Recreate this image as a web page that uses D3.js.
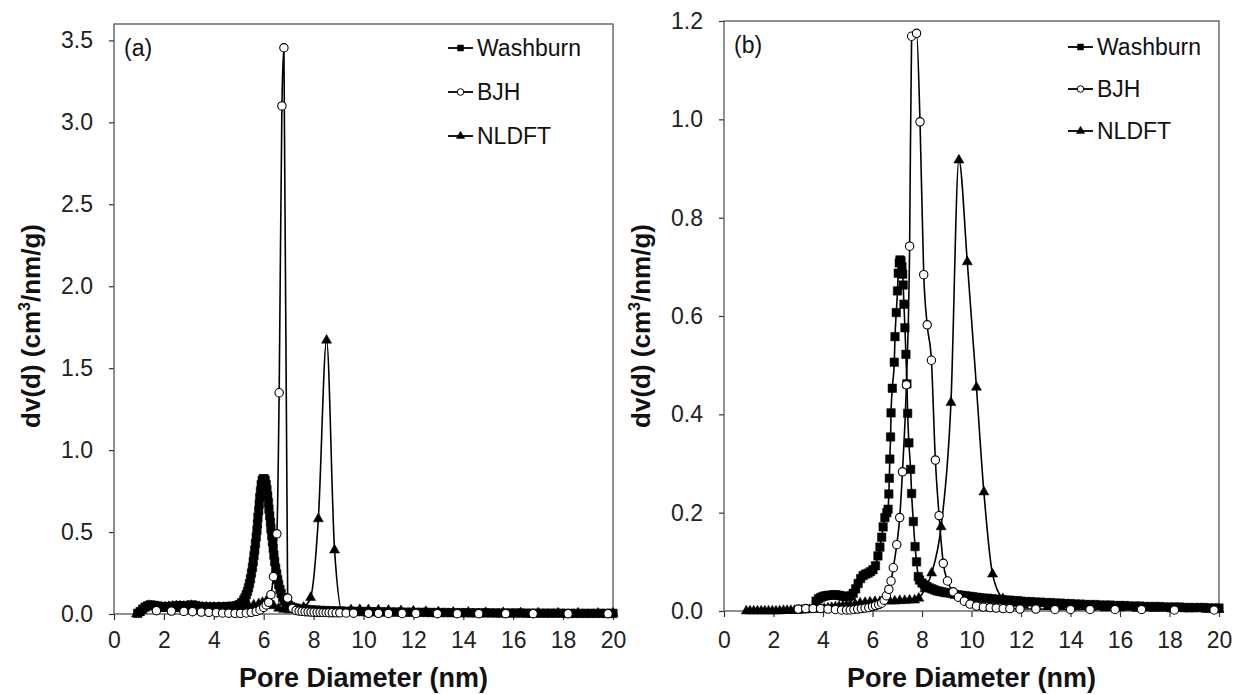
<!DOCTYPE html>
<html>
<head>
<meta charset="utf-8">
<script src="https://cdn.jsdelivr.net/npm/d3@7"></script>
<style>
  body { margin: 0; background: #fff; }
  svg { display: block; font-family: "Liberation Sans", Arial, sans-serif; }
</style>
</head>
<body>
<svg id="chart" width="1243" height="695"></svg>
<script>
// values, [pore diameter nm, dv(d)]
const washburnA = [[0.95,0.004],[1.05,0.015],[1.15,0.03],[1.25,0.042],[1.35,0.05],[1.45,0.055],[1.55,0.053],[1.65,0.05],[1.75,0.048],[1.85,0.045],[1.95,0.043],[2.05,0.042],[2.15,0.043],[2.25,0.045],[2.35,0.047],[2.45,0.048],[2.55,0.05],[2.65,0.05],[2.75,0.048],[2.85,0.047],[2.95,0.05],[3.05,0.053],[3.15,0.055],[3.25,0.05],[3.35,0.047],[3.45,0.045],[3.6,0.043],[3.75,0.042],[3.9,0.042],[4.05,0.043],[4.2,0.043],[4.35,0.044],[4.5,0.045],[4.65,0.046],[4.8,0.048],[4.92,0.05],[5.02,0.058],[5.12,0.07],[5.2,0.085],[5.25,0.1],[5.3,0.118],[5.35,0.138],[5.39,0.16],[5.43,0.185],[5.47,0.215],[5.51,0.25],[5.55,0.285],[5.58,0.32],[5.61,0.355],[5.64,0.39],[5.67,0.43],[5.7,0.47],[5.73,0.51],[5.75,0.55],[5.77,0.59],[5.8,0.63],[5.82,0.67],[5.84,0.71],[5.87,0.75],[5.9,0.79],[5.94,0.815],[5.98,0.825],[6.02,0.825],[6.06,0.815],[6.1,0.79],[6.13,0.76],[6.16,0.72],[6.19,0.68],[6.21,0.64],[6.24,0.6],[6.27,0.56],[6.29,0.52],[6.32,0.48],[6.35,0.44],[6.38,0.4],[6.41,0.36],[6.44,0.32],[6.48,0.28],[6.52,0.245],[6.56,0.21],[6.6,0.18],[6.65,0.15],[6.7,0.125],[6.76,0.1],[6.83,0.08],[6.9,0.066],[6.98,0.055],[7.07,0.046],[7.17,0.04],[7.3,0.035],[7.5,0.031],[7.7,0.028],[7.9,0.026],[8.1,0.024],[8.3,0.022],[8.5,0.021],[8.7,0.02],[8.9,0.019],[9.1,0.018],[9.3,0.017],[9.5,0.016],[9.7,0.016],[9.9,0.015],[10.1,0.015],[10.3,0.014],[10.5,0.014],[10.7,0.013],[10.9,0.013],[11.1,0.012],[11.3,0.012],[11.5,0.011],[11.7,0.011],[11.9,0.011],[12.1,0.01],[12.3,0.01],[12.5,0.01],[12.7,0.009],[12.9,0.009],[13.1,0.009],[13.3,0.009],[13.5,0.008],[13.7,0.008],[13.9,0.008],[14.1,0.008],[14.3,0.007],[14.5,0.007],[14.7,0.007],[14.9,0.007],[15.1,0.007],[15.3,0.006],[15.5,0.006],[15.7,0.006],[15.9,0.006],[16.1,0.006],[16.3,0.006],[16.5,0.005],[16.7,0.005],[16.9,0.005],[17.1,0.005],[17.3,0.005],[17.5,0.005],[17.7,0.005],[17.9,0.005],[18.1,0.004],[18.3,0.004],[18.5,0.004],[18.7,0.004],[18.9,0.004],[19.1,0.004],[19.3,0.004],[19.5,0.004],[19.7,0.004],[19.9,0.004],[20.0,0.004]];

const bjhA = [[1.7,0.02],[2.3,0.018],[2.8,0.016],[3.15,0.014],[3.5,0.012],[3.8,0.01],[4.1,0.008],[4.35,0.006],[4.6,0.005],[4.85,0.004],[5.07,0.004],[5.3,0.006],[5.5,0.01],[5.7,0.016],[5.85,0.025],[6.0,0.04],[6.1,0.055],[6.2,0.071],[6.29,0.118],[6.39,0.228],[6.53,0.489],[6.62,1.35],[6.73,3.1],[6.81,3.455],[6.96,0.097],[7.15,0.035],[7.3,0.022],[7.42,0.018],[7.54,0.016],[7.66,0.014],[7.78,0.013],[7.9,0.012],[8.02,0.011],[8.14,0.01],[8.26,0.01],[8.38,0.009],[8.5,0.009],[8.62,0.008],[8.75,0.008],[8.9,0.007],[9.05,0.007],[9.3,0.006],[9.6,0.005],[10.2,0.004],[10.6,0.004],[11.0,0.003],[11.55,0.003],[12.1,0.003],[12.96,0.002],[13.76,0.002],[14.62,0.002],[15.7,0.002],[16.8,0.002],[18.2,0.002],[19.8,0.002]];

const nldftA = [[0.9,0.0],[1.0,0.01],[1.1,0.025],[1.2,0.038],[1.3,0.047],[1.4,0.052],[1.5,0.05],[1.62,0.047],[1.75,0.045],[1.9,0.043],[2.05,0.043],[2.2,0.045],[2.35,0.047],[2.5,0.05],[2.65,0.049],[2.8,0.047],[2.95,0.05],[3.1,0.052],[3.25,0.048],[3.4,0.045],[3.55,0.043],[3.7,0.042],[3.85,0.041],[4.0,0.04],[4.2,0.04],[4.4,0.04],[4.6,0.041],[4.8,0.042],[5.0,0.044],[5.2,0.047],[5.4,0.05],[5.6,0.055],[5.8,0.062],[5.95,0.07],[6.1,0.078],[6.25,0.07],[6.4,0.05],[6.6,0.035],[6.8,0.028],[7.0,0.025],[7.2,0.025],[7.4,0.028],[7.6,0.04],[7.88,0.1],[8.19,0.58],[8.52,1.67],[8.84,0.39],[9.17,0.01],[9.5,0.025],[9.85,0.027],[10.2,0.026],[10.6,0.024],[11.0,0.022],[11.5,0.02],[12.0,0.018],[12.5,0.015],[13.0,0.013],[13.6,0.011],[14.2,0.01],[14.9,0.009],[15.6,0.008],[16.3,0.007],[17.0,0.006],[17.8,0.005],[18.6,0.005],[19.4,0.004],[20.0,0.004]];

const washburnB = [[3.72,0.02],[3.82,0.025],[3.92,0.028],[4.02,0.03],[4.12,0.031],[4.22,0.032],[4.32,0.032],[4.42,0.033],[4.52,0.033],[4.62,0.032],[4.72,0.031],[4.82,0.03],[4.92,0.029],[5.02,0.029],[5.12,0.031],[5.22,0.036],[5.32,0.045],[5.42,0.056],[5.52,0.066],[5.62,0.072],[5.72,0.075],[5.82,0.077],[5.92,0.08],[6.02,0.084],[6.12,0.092],[6.22,0.112],[6.3,0.13],[6.37,0.15],[6.43,0.171],[6.5,0.19],[6.58,0.2],[6.63,0.207],[6.66,0.238],[6.68,0.27],[6.7,0.309],[6.73,0.354],[6.75,0.403],[6.8,0.453],[6.88,0.506],[6.91,0.558],[6.96,0.607],[7.01,0.651],[7.04,0.687],[7.08,0.708],[7.11,0.714],[7.15,0.712],[7.19,0.7],[7.22,0.685],[7.24,0.663],[7.27,0.624],[7.31,0.576],[7.35,0.522],[7.39,0.462],[7.42,0.402],[7.47,0.342],[7.54,0.288],[7.58,0.239],[7.65,0.182],[7.72,0.131],[7.78,0.1],[7.85,0.07],[7.9,0.063],[8.0,0.057],[8.1,0.053],[8.2,0.05],[8.3,0.047],[8.4,0.045],[8.5,0.043],[8.6,0.041],[8.7,0.04],[8.8,0.039],[8.9,0.038],[9.0,0.037],[9.15,0.036],[9.3,0.034],[9.45,0.033],[9.6,0.032],[9.75,0.031],[9.9,0.03],[10.05,0.029],[10.2,0.028],[10.35,0.027],[10.5,0.026],[10.65,0.026],[10.8,0.025],[10.95,0.024],[11.1,0.024],[11.25,0.023],[11.4,0.022],[11.55,0.022],[11.7,0.021],[11.85,0.021],[12.0,0.02],[12.2,0.019],[12.4,0.019],[12.6,0.018],[12.8,0.018],[13.0,0.017],[13.2,0.017],[13.4,0.016],[13.6,0.016],[13.8,0.015],[14.0,0.015],[14.2,0.014],[14.4,0.014],[14.6,0.013],[14.8,0.013],[15.0,0.013],[15.2,0.012],[15.4,0.012],[15.6,0.012],[15.8,0.011],[16.0,0.011],[16.2,0.011],[16.4,0.01],[16.6,0.01],[16.8,0.01],[17.0,0.009],[17.2,0.009],[17.4,0.009],[17.6,0.009],[17.8,0.008],[18.0,0.008],[18.2,0.008],[18.4,0.008],[18.6,0.007],[18.8,0.007],[19.0,0.007],[19.2,0.007],[19.4,0.007],[19.6,0.006],[19.8,0.006],[20.0,0.006]];

const bjhB = [[3.0,0.004],[3.3,0.005],[3.6,0.005],[3.9,0.005],[4.2,0.004],[4.5,0.003],[4.75,0.002],[4.95,0.002],[5.1,0.002],[5.25,0.003],[5.4,0.004],[5.55,0.005],[5.7,0.006],[5.85,0.007],[6.0,0.009],[6.12,0.011],[6.25,0.013],[6.37,0.016],[6.47,0.022],[6.56,0.031],[6.66,0.044],[6.75,0.061],[6.84,0.088],[6.98,0.135],[7.1,0.19],[7.21,0.283],[7.37,0.46],[7.5,0.742],[7.58,1.169],[7.78,1.175],[7.92,0.995],[8.07,0.684],[8.21,0.582],[8.38,0.51],[8.54,0.307],[8.69,0.194],[8.86,0.097],[9.03,0.061],[9.26,0.039],[9.47,0.028],[9.71,0.02],[9.94,0.014],[10.2,0.01],[10.48,0.008],[10.75,0.007],[11.0,0.006],[11.28,0.005],[11.55,0.005],[11.96,0.004],[12.6,0.004],[13.37,0.003],[14.0,0.003],[14.79,0.003],[15.8,0.003],[16.87,0.003],[18.2,0.002],[19.8,0.002]];

const nldftB = [[0.9,0.0],[1.05,0.0],[1.2,0.0],[1.35,0.0],[1.5,0.0],[1.65,0.0],[1.8,0.0],[1.95,0.0],[2.1,0.0],[2.25,0.0],[2.4,0.001],[2.55,0.001],[2.7,0.001],[2.85,0.001],[3.0,0.001],[3.15,0.002],[3.3,0.002],[3.45,0.003],[3.6,0.003],[3.75,0.004],[3.9,0.004],[4.05,0.005],[4.2,0.006],[4.35,0.007],[4.5,0.008],[4.65,0.009],[4.8,0.01],[4.95,0.011],[5.1,0.012],[5.3,0.014],[5.5,0.016],[5.7,0.017],[5.9,0.018],[6.1,0.019],[6.3,0.019],[6.5,0.02],[6.7,0.02],[6.9,0.02],[7.1,0.021],[7.3,0.021],[7.5,0.022],[7.7,0.022],[7.87,0.026],[8.12,0.045],[8.39,0.077],[8.77,0.171],[9.17,0.424],[9.49,0.917],[9.83,0.71],[10.2,0.455],[10.5,0.242],[10.85,0.075],[11.27,0.025],[11.7,0.015],[12.1,0.012],[12.6,0.011],[13.1,0.01],[13.6,0.009],[14.2,0.008],[14.8,0.007],[15.4,0.006],[16.0,0.006],[16.7,0.005],[17.4,0.005],[18.1,0.004],[18.8,0.004],[19.5,0.003],[20.0,0.003]];

const seriesNames = ["Washburn", "BJH", "NLDFT"];
const xTicks = [0, 2, 4, 6, 8, 10, 12, 14, 16, 18, 20];
const yTicksA = [0, 0.5, 1.0, 1.5, 2.0, 2.5, 3.0, 3.5];
const yTicksB = [0, 0.2, 0.4, 0.6, 0.8, 1.0, 1.2];

const markers = {
  Washburn: { type: d3.symbolSquare, size: 72, fill: "#000", legendSize: 36 },
  BJH: { type: d3.symbolCircle, size: 55, fill: "#fff", legendSize: 34 },
  NLDFT: { type: d3.symbolTriangle, size: 44, fill: "#000", legendSize: 30 }
};

const panels = [
  {
    key: "a", tag: "(a)", left: 114, right: 613, top: 24, bottom: 614, yMax: 3.6,
    yTicks: yTicksA, padX: 12, legendX: 448, legendY: [48, 92, 136], tagX: 124, tagY: 56,
    titleX: 40, data: { Washburn: washburnA, BJH: bjhA, NLDFT: nldftA }
  },
  {
    key: "b", tag: "(b)", left: 724, right: 1219, top: 21, bottom: 611, yMax: 1.2,
    yTicks: yTicksB, padX: 15, legendX: 1068, legendY: [47, 89, 131], tagX: 734, tagY: 53,
    titleX: 650, data: { Washburn: washburnB, BJH: bjhB, NLDFT: nldftB }
  }
];

const svg = d3.select("#chart");

const styleAxis = g => {
  g.select(".domain").remove();
  g.selectAll(".tick line").attr("stroke", "#333").attr("stroke-width", 1.2);
  g.selectAll(".tick text")
    .attr("fill", "#222")
    .style("font-size", "23px")
    .style("font-family", "'Liberation Sans', Arial, sans-serif");
};

const drawPanel = p => {
  const x = d3.scaleLinear().domain([0, 20]).range([p.left, p.right]);
  const y = d3.scaleLinear().domain([0, p.yMax]).range([p.bottom, p.top]);
  const g = svg.append("g").attr("class", `panel-${p.key}`);

  g.append("g")
    .attr("transform", `translate(0,${p.bottom})`)
    .call(d3.axisBottom(x).tickValues(xTicks).tickSize(6).tickPadding(p.padX).tickFormat(d3.format("d")))
    .call(styleAxis);

  g.append("g")
    .attr("transform", `translate(${p.left},0)`)
    .call(d3.axisLeft(y).tickValues(p.yTicks).tickSize(5).tickPadding(16).tickFormat(d3.format(".1f")))
    .call(styleAxis);

  g.append("rect")
    .attr("x", p.left)
    .attr("y", p.top)
    .attr("width", p.right - p.left)
    .attr("height", p.bottom - p.top)
    .attr("fill", "none")
    .attr("stroke", "#555")
    .attr("stroke-width", 1.3);

  const line = d3
    .line()
    .x(d => x(d[0]))
    .y(d => y(d[1]))
    .curve(d3.curveMonotoneX);

  // drawing order: Washburn, NLDFT, then the open circles on top
  ["Washburn", "NLDFT", "BJH"].forEach(name => {
    const m = markers[name];
    const pts = p.data[name];
    g.append("path")
      .datum(pts)
      .attr("d", line)
      .attr("fill", "none")
      .attr("stroke", "#000")
      .attr("stroke-width", 1.6);
    g.append("g")
      .selectAll("path")
      .data(pts)
      .join("path")
      .attr("transform", d => `translate(${x(d[0])},${y(d[1])})`)
      .attr("d", d3.symbol().type(m.type).size(m.size))
      .attr("fill", m.fill)
      .attr("stroke", "#000")
      .attr("stroke-width", name === "BJH" ? 1.1 : 0.5);
  });

  // legend
  const lg = g.append("g").attr("class", "legend");
  seriesNames.forEach((name, i) => {
    const m = markers[name];
    const ly = p.legendY[i];
    lg.append("line")
      .attr("x1", p.legendX).attr("x2", p.legendX + 25)
      .attr("y1", ly).attr("y2", ly)
      .attr("stroke", "#000").attr("stroke-width", 1.8);
    lg.append("path")
      .attr("transform", `translate(${p.legendX + 12.5},${ly})`)
      .attr("d", d3.symbol().type(m.type).size(m.legendSize))
      .attr("fill", m.fill)
      .attr("stroke", "#000")
      .attr("stroke-width", name === "BJH" ? 1 : 0.5);
    lg.append("text")
      .attr("x", p.legendX + 29)
      .attr("y", ly)
      .attr("dy", "0.36em")
      .style("font-size", "23px")
      .attr("fill", "#111")
      .text(name);
  });

  g.append("text")
    .attr("x", p.tagX)
    .attr("y", p.tagY)
    .style("font-size", "23px")
    .attr("fill", "#111")
    .text(p.tag);

  g.append("text")
    .attr("x", (p.left + p.right) / 2)
    .attr("y", 687)
    .attr("text-anchor", "middle")
    .style("font-size", "27px")
    .style("font-weight", "bold")
    .attr("fill", "#111")
    .text("Pore Diameter (nm)");

  const yt = g.append("text")
    .attr("transform", `translate(${p.titleX},326) rotate(-90)`)
    .attr("text-anchor", "middle")
    .style("font-size", "26px")
    .style("font-weight", "bold")
    .attr("fill", "#111");
  yt.append("tspan").text("dv(d) (cm");
  yt.append("tspan").attr("dy", -10).style("font-size", "16px").text("3");
  yt.append("tspan").attr("dy", 10).text("/nm/g)");
};

panels.forEach(drawPanel);
</script>
</body>
</html>
